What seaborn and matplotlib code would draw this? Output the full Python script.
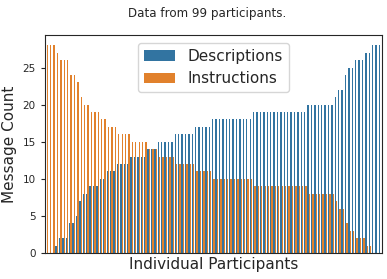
import pandas as pd
import seaborn as sns
import matplotlib
matplotlib.use('Agg')
import matplotlib.pyplot as plt

# Mensajes por participante (ordenados por numero de descripciones)
descriptions = [0, 0, 0, 1, 2, 2, 2, 4, 4, 5,
                7, 8, 8, 9, 9, 9, 10, 10, 11, 11,
                11, 12, 12, 12, 12, 13, 13, 13, 13, 13,
                14, 14, 14, 15, 15, 15, 15, 15, 16, 16,
                16, 16, 16, 16, 17, 17, 17, 17, 17, 18,
                18, 18, 18, 18, 18, 18, 18, 18, 18, 18,
                18, 19, 19, 19, 19, 19, 19, 19, 19, 19,
                19, 19, 19, 19, 19, 19, 19, 20, 20, 20,
                20, 20, 20, 20, 20, 21, 22, 22, 24, 25,
                25, 26, 26, 26, 27, 27, 28, 28, 28]
instructions = [28, 28, 28, 27, 26, 26, 26, 24, 24, 23,
                21, 20, 20, 19, 19, 19, 18, 18, 17, 17,
                17, 16, 16, 16, 16, 15, 15, 15, 15, 15,
                14, 14, 14, 13, 13, 13, 13, 13, 12, 12,
                12, 12, 12, 12, 11, 11, 11, 11, 11, 10,
                10, 10, 10, 10, 10, 10, 10, 10, 10, 10,
                10, 9, 9, 9, 9, 9, 9, 9, 9, 9,
                9, 9, 9, 9, 9, 9, 9, 8, 8, 8,
                8, 8, 8, 8, 8, 7, 6, 6, 4, 3,
                3, 2, 2, 2, 1, 1, 0, 0, 0]
participants = list(range(len(descriptions)))

data = pd.DataFrame({
    'participant': participants * 2,
    'count': descriptions + instructions,
    'type': ['Descriptions'] * len(descriptions) + ['Instructions'] * len(instructions),
})

sns.set_style('ticks')
fig, ax = plt.subplots(figsize=(3.87, 2.79), dpi=100)
fig.subplots_adjust(left=0.116, right=0.987, top=0.875, bottom=0.093)

sns.barplot(data=data, x='participant', y='count', hue='type',
            palette=['#1f77b4', '#ff7f0e'], linewidth=0, ax=ax)

ax.set_xticks([])
ax.set_xlabel('Individual Participants', fontsize=11, labelpad=3)
ax.set_ylabel('Message Count', fontsize=11)
ax.tick_params(axis='y', labelsize=7.5, length=3)
ax.set_ylim(0, 29.4)
for s in ax.spines.values():
    s.set_visible(True)

ax.legend(loc='upper center', fontsize=11, title=None, frameon=True)

fig.text(207 / 387, 1 - 13 / 279, 'Data from 99 participants.', ha='center', va='center', fontsize=8.6)

plt.savefig('out.png', dpi=100)
